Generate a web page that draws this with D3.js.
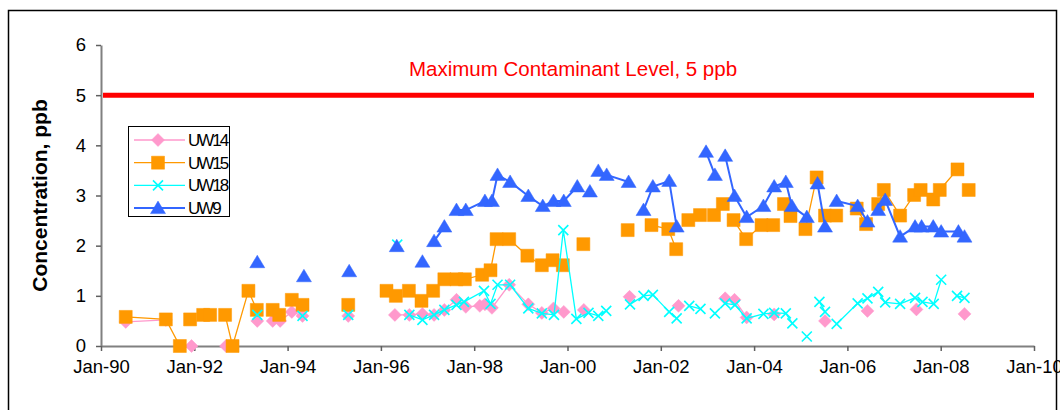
<!DOCTYPE html>
<html>
<head>
<meta charset="utf-8">
<script src="https://cdn.jsdelivr.net/npm/d3@7"></script>
<style>
  html, body { margin: 0; padding: 0; background: #fff; }
  svg { display: block; font-family: "Liberation Sans", Arial, sans-serif; }
</style>
</head>
<body>
<svg id="chart" width="1060" height="410"></svg>
<script>
// ---- Data (decimal years; null = line break) ----
const seriesNames = ["UW14", "UW15", "UW18", "UW9"];

const uw14Dates  = [1990.53, 1991.39, null, 1991.94, null, 1992.68, null, 1993.35, null, 1993.68, 1993.84, 1994.09, 1994.32, null, 1995.30, null,
  1996.30, 1996.61, 1996.89, 1997.14, 1997.36, 1997.62, 1997.82, 1998.12, 1998.23, 1998.38, 1998.75, 1999.16, 1999.45, 1999.70, 1999.92, null,
  2000.35, null, 2001.33, null, 2002.38, null, 2003.38, 2003.58, 2003.84, null, 2004.43, null, 2005.52, null, 2006.43, null, 2007.48, null, 2008.51];
const uw14Values = [0.48, 0.52, null, 0.0, null, 0.0, null, 0.50, null, 0.50, 0.50, 0.68, 0.60, null, 0.60, null,
  0.62, 0.62, 0.64, 0.62, 0.72, 0.92, 0.78, 0.80, 0.83, 0.76, 1.22, 0.83, 0.66, 0.75, 0.68, null,
  0.72, null, 0.98, null, 0.80, null, 0.95, 0.92, 0.57, null, 0.63, null, 0.50, null, 0.70, null, 0.73, null, 0.64];

const uw15Dates  = [1990.53, 1991.39, 1991.69, null, 1991.91, null, 1992.19, 1992.34, null, 1992.66, 1992.82, 1993.16, 1993.34, null,
  1993.68, 1993.82, null, 1994.09, 1994.32, null, 1995.30, null, 1996.12, null, 1996.32, null, 1996.60, null, 1996.87, null, 1997.12, null,
  1997.36, 1997.62, 1997.80, 1998.17, 1998.35, 1998.48, 1998.75, 1999.14, 1999.45, null, 1999.68, 1999.90, null, 2000.34, null, 2001.29, null,
  2001.80, 2002.16, 2002.33, null, 2002.59, null, 2002.84, null, 2003.14, 2003.33, null, 2003.56, 2003.83, 2004.16, 2004.41, null,
  2004.64, 2004.78, null, 2005.10, 2005.34, null, 2005.52, 2005.76, null, 2006.20, 2006.40, null, 2006.66, 2006.78, 2007.13, 2007.43, 2007.57, null,
  2007.84, 2007.98, 2008.36, null, 2008.60];
const uw15Values = [0.58, 0.53, 0.0, null, 0.53, null, 0.62, 0.62, null, 0.62, 0.0, 1.10, 0.72, null,
  0.72, 0.62, null, 0.92, 0.82, null, 0.82, null, 1.10, null, 1.00, null, 1.10, null, 0.90, null, 1.10, null,
  1.33, 1.33, 1.33, 1.42, 1.51, 2.13, 2.13, 1.80, 1.61, null, 1.71, 1.61, null, 2.03, null, 2.31, null,
  2.41, 2.33, 1.93, null, 2.51, null, 2.61, null, 2.61, 2.83, null, 2.51, 2.13, 2.41, 2.41, null,
  2.83, 2.59, null, 2.33, 3.36, null, 2.60, 2.60, null, 2.74, 2.43, null, 2.83, 3.11, 2.60, 3.01, 3.11, null,
  2.92, 3.11, 3.52, null, 3.11];

const uw18Dates  = [1993.35, null, 1994.32, null, 1995.30, null, 1996.35, null,
  1996.61, 1996.89, 1997.14, 1997.36, 1997.62, 1997.78, 1998.21, 1998.35, 1998.50, 1998.77, 1999.16, 1999.45, 1999.71, 1999.91,
  2000.19, 2000.45, 2000.66, 2000.83, null, 2001.34, 2001.63, 2001.83, 2002.18, 2002.34, null, 2002.61, 2002.85, null, 2003.16, null,
  2003.38, 2003.59, 2003.84, 2004.20, 2004.43, 2004.68, 2004.82, null, 2005.13, null, 2005.40, 2005.52, null,
  2005.77, 2006.22, 2006.43, 2006.66, 2006.81, 2007.13, 2007.45, 2007.61, 2007.85, 2008.01, null, 2008.35, 2008.51];
const uw18Values = [0.62, null, 0.60, null, 0.62, null, 2.02, null,
  0.62, 0.52, 0.62, 0.72, 0.82, 0.88, 1.10, 0.84, 1.22, 1.22, 0.75, 0.65, 0.62, 2.31,
  0.54, 0.66, 0.60, 0.70, null, 0.83, 1.00, 1.02, 0.68, 0.55, null, 0.80, 0.74, null, 0.65, null,
  0.85, 0.82, 0.55, 0.64, 0.66, 0.65, 0.45, null, 0.19, null, 0.88, 0.68, null,
  0.44, 0.85, 0.95, 1.08, 0.87, 0.84, 0.96, 0.88, 0.84, 1.32, null, 1.00, 0.96];

const uw9Dates  = [1993.35, null, 1994.35, null, 1995.32, null, 1996.34, null, 1996.89, null, 1997.14, 1997.36, null,
  1997.62, 1997.82, 1998.23, 1998.38, 1998.50, 1998.77, 1999.16, 1999.47, 1999.70, 1999.92, 2000.21, null, 2000.48, null,
  2000.66, 2000.84, 2001.31, null, 2001.63, 2001.83, 2002.18, 2002.34, null, 2002.97, 2003.16, null,
  2003.38, 2003.58, 2003.84, 2004.20, 2004.43, 2004.68, 2004.81, 2005.13, null, 2005.36, 2005.52, null,
  2005.77, 2006.22, 2006.43, null, 2006.66, 2006.81, 2007.13, 2007.45, 2007.59, 2007.84, 2008.01, 2008.38, 2008.51];
const uw9Values = [1.67, null, 1.39, null, 1.49, null, 1.99, null, 1.68, null, 2.09, 2.38, null,
  2.71, 2.71, 2.89, 2.89, 3.41, 3.27, 2.99, 2.79, 2.89, 2.89, 3.18, null, 3.08, null,
  3.49, 3.41, 3.27, null, 2.71, 3.18, 3.29, 2.38, null, 3.87, 3.41, null,
  3.79, 2.99, 2.57, 2.79, 3.18, 3.27, 2.79, 2.57, null, 3.24, 2.38, null,
  2.89, 2.79, 2.48, null, 2.71, 2.91, 2.18, 2.38, 2.38, 2.38, 2.28, 2.28, 2.18];

const xTickValues = [1990, 1992, 1994, 1996, 1998, 2000, 2002, 2004, 2006, 2008, 2010];
const xTickLabels = ["Jan-90", "Jan-92", "Jan-94", "Jan-96", "Jan-98", "Jan-00", "Jan-02", "Jan-04", "Jan-06", "Jan-08", "Jan-10"];
const yTickValues = [0, 1, 2, 3, 4, 5, 6];
const mclValue = 5;
const mclLabel = "Maximum Contaminant Level, 5 ppb";
const yTitle = "Concentration, ppb";

// ---- Styling ----
const colors = { UW14: "#FF99CC", UW15: "#FF9900", UW18: "#00FFFF", UW9: "#3366FF" };
const lineWidths = { UW14: 1.3, UW15: 1.3, UW18: 1.3, UW9: 2 };
const markerPaths = {
  UW14: "M0,-6.5L6.5,0L0,6.5L-6.5,0Z",
  UW15: "M-6.5,-6.5H6.5V6.5H-6.5Z",
  UW18: "M-5,-5L5,5M-5,5L5,-5",
  UW9: "M0,-7L7.5,5.5L-7.5,5.5Z"
};

const series = [
  { name: "UW14", dates: uw14Dates, values: uw14Values },
  { name: "UW15", dates: uw15Dates, values: uw15Values },
  { name: "UW18", dates: uw18Dates, values: uw18Values },
  { name: "UW9",  dates: uw9Dates,  values: uw9Values }
];

const svg = d3.select("#chart");
const x = d3.scaleLinear().domain([1990, 2010]).range([101, 1034]);
const y = d3.scaleLinear().domain([0, 6]).range([346, 45]);

// outer frame
svg.append("rect").attr("x", 8.5).attr("y", 10.5).attr("width", 1048).attr("height", 430)
  .attr("fill", "none").attr("stroke", "#000").attr("stroke-width", 1.5);

// Y axis
const yAxis = svg.append("g").attr("transform", `translate(${x(1990)},0)`)
  .call(d3.axisLeft(y).tickValues(yTickValues).tickFormat(d3.format("d")).tickSize(5).tickSizeOuter(0).tickPadding(10));
// X axis
const xAxis = svg.append("g").attr("transform", `translate(0,${y(0)})`)
  .call(d3.axisBottom(x).tickValues(xTickValues).tickFormat((d, i) => xTickLabels[i]).tickSize(5).tickSizeOuter(0).tickPadding(9));
[yAxis, xAxis].forEach(g => {
  g.select(".domain").attr("stroke", "#808080").attr("stroke-width", 2);
  g.selectAll(".tick line").attr("stroke", "#606060").attr("stroke-width", 1.5);
  g.selectAll(".tick text").attr("fill", "#000").style("font-size", "18.5px").style("font-family", "'Liberation Sans', Arial, sans-serif");
});

// Y title
svg.append("text")
  .attr("transform", `translate(47,${(y(0) + y(6)) / 2}) rotate(-90)`)
  .attr("text-anchor", "middle")
  .style("font-size", "21px").style("font-weight", "bold")
  .text(yTitle);

// MCL line
svg.append("line").attr("x1", x(1990) + 2).attr("x2", x(2010)).attr("y1", y(mclValue)).attr("y2", y(mclValue))
  .attr("stroke", "#FF0000").attr("stroke-width", 5);
svg.append("text").attr("x", 573).attr("y", 76).attr("text-anchor", "middle")
  .attr("fill", "#FF0000").style("font-size", "20.5px").text(mclLabel);

// Series
series.forEach(s => {
  const pts = s.dates.map((d, i) => ({ d: d, v: s.values[i] }));
  const line = d3.line().defined(p => p.v !== null && p.d !== null).x(p => x(p.d)).y(p => y(p.v));
  const g = svg.append("g");
  g.append("path").attr("d", line(pts)).attr("fill", "none")
    .attr("stroke", colors[s.name]).attr("stroke-width", lineWidths[s.name]);
  g.selectAll("path.m").data(pts.filter(p => p.v !== null)).join("path").attr("class", "m")
    .attr("transform", p => `translate(${x(p.d)},${y(p.v)})`)
    .attr("d", markerPaths[s.name])
    .attr("fill", s.name === "UW18" ? "none" : colors[s.name])
    .attr("stroke", colors[s.name])
    .attr("stroke-width", s.name === "UW18" ? 1.6 : 0.5);
});

// Legend
const lg = svg.append("g");
lg.append("rect").attr("x", 128.5).attr("y", 126.5).attr("width", 101).attr("height", 90)
  .attr("fill", "#fff").attr("stroke", "#000").attr("stroke-width", 1);
seriesNames.forEach((n, i) => {
  const cy = 140 + i * 22.7;
  lg.append("line").attr("x1", 134).attr("x2", 185).attr("y1", cy).attr("y2", cy)
    .attr("stroke", colors[n]).attr("stroke-width", lineWidths[n]);
  lg.append("path").attr("transform", `translate(158,${cy})`).attr("d", markerPaths[n])
    .attr("fill", n === "UW18" ? "none" : colors[n]).attr("stroke", colors[n])
    .attr("stroke-width", n === "UW18" ? 1.6 : 0.5);
  lg.append("text").attr("x", 188).attr("y", cy).attr("dy", "0.35em")
    .style("font-size", "17px").style("letter-spacing", "-2px").text(n);
});
</script>
</body>
</html>
